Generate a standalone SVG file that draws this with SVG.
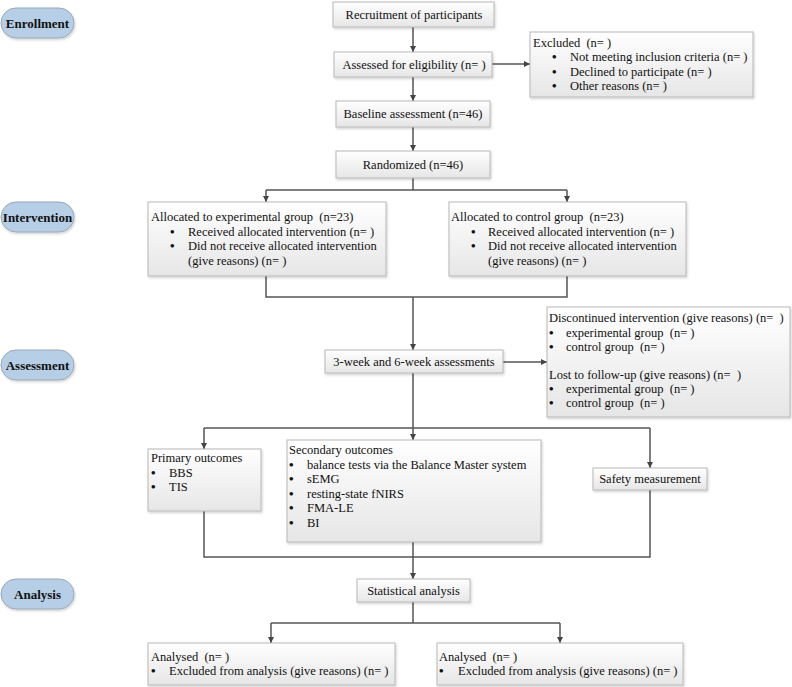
<svg xmlns="http://www.w3.org/2000/svg" width="792" height="687" viewBox="0 0 792 687">
<style>
text{font-family:"Liberation Serif","Times New Roman",serif;font-size:12.5px;fill:#111}
.c{text-anchor:middle}
.b{font-size:13px;font-weight:bold}
.pill text{font-weight:bold;font-size:13px;text-anchor:middle}
.box{fill:url(#g);stroke:#b8b8b8;stroke-width:1;filter:url(#sh)}
.pl{fill:#b7cfe6;stroke:#9aa8b5;stroke-width:1;filter:url(#sh)}
.ln{fill:none;stroke:#555;stroke-width:1.5}
.ar{fill:none;stroke:#555;stroke-width:1.5;marker-end:url(#ah)}
</style>
<defs>
<linearGradient id="g" x1="0" y1="0" x2="0" y2="1"><stop offset="0" stop-color="#ffffff"/><stop offset="1" stop-color="#e6e6e6"/></linearGradient>
<filter id="sh" x="-5%" y="-10%" width="110%" height="130%"><feDropShadow dx="1" dy="1.5" stdDeviation="1" flood-color="#000" flood-opacity="0.18"/></filter>
<marker id="ah" viewBox="0 0 10 10" refX="10" refY="5" markerWidth="6" markerHeight="6" orient="auto" markerUnits="userSpaceOnUse"><path d="M0,0 L10,5 L0,10 z" fill="#444"/></marker>
</defs>
<g id="phases" class="pill">
<g id="enrollment"><rect class="pl" x="1" y="8" width="73" height="30" rx="15"/><text x="37.5" y="27.5">Enrollment</text></g>
<g id="intervention"><rect class="pl" x="1" y="202" width="73" height="30" rx="15"/><text x="37.5" y="221.5">Intervention</text></g>
<g id="assessment"><rect class="pl" x="1" y="350" width="73" height="30" rx="15"/><text x="37.5" y="369.5">Assessment</text></g>
<g id="analysis"><rect class="pl" x="1" y="579" width="73" height="30" rx="15"/><text x="37.5" y="598.5">Analysis</text></g>
</g>
<g id="connectors">
<path class="ar" d="M413,27 V52"/>
<path class="ar" d="M492,64 H530"/>
<path class="ar" d="M413,77 V101"/>
<path class="ar" d="M413,127 V151"/>
<path class="ln" d="M413,178 V190"/>
<path class="ar" d="M266,190 V202"/>
<path class="ln" d="M266,190 H567"/>
<path class="ar" d="M567,190 V202"/>
<path class="ln" d="M266,276 V297 H567 V276"/>
<path class="ar" d="M413,297 V350"/>
<path class="ar" d="M503,362 H547"/>
<path class="ln" d="M413,373 V428"/>
<path class="ln" d="M204,428 H650"/>
<path class="ar" d="M204,428 V449"/>
<path class="ar" d="M413,428 V440"/>
<path class="ar" d="M650,428 V468"/>
<path class="ln" d="M204,511 V557 H650 V490"/>
<path class="ar" d="M413,542 V579"/>
<path class="ln" d="M413,602 V623"/>
<path class="ln" d="M271,623 H560"/>
<path class="ar" d="M271,623 V643"/>
<path class="ar" d="M560,623 V643"/>
</g>
<g id="recruitment"><rect class="box" x="333" y="2" width="161" height="25"/><text class="c" x="414" y="18.5">Recruitment of participants</text></g>
<g id="assessed"><rect class="box" x="334" y="52" width="158" height="25"/><text class="c" x="414" y="68.5">Assessed for eligibility (n= )</text></g>
<g id="excluded"><rect class="box" x="530" y="32" width="223" height="65"/>
<text x="533" y="47">Excluded &#160;(n= )</text>
<text class="b" x="552" y="61">•</text><text x="570" y="61">Not meeting inclusion criteria (n= )</text>
<text class="b" x="552" y="75.5">•</text><text x="570" y="75.5">Declined to participate (n= )</text>
<text class="b" x="552" y="90">•</text><text x="570" y="90">Other reasons (n= )</text>
</g>
<g id="baseline"><rect class="box" x="336" y="101" width="154" height="26"/><text class="c" x="413" y="118">Baseline assessment (n=46)</text></g>
<g id="randomized"><rect class="box" x="336" y="151" width="154" height="27"/><text class="c" x="413" y="168.5">Randomized (n=46)</text></g>
<g id="experimental"><rect class="box" x="148" y="202" width="238" height="74"/>
<text x="151" y="221">Allocated to experimental group &#160;(n=23)</text>
<text class="b" x="170" y="236">•</text><text x="188" y="236">Received allocated intervention (n= )</text>
<text class="b" x="170" y="250">•</text><text x="188" y="250">Did not receive allocated intervention</text>
<text x="188" y="265">(give reasons) (n= )</text>
</g>
<g id="control"><rect class="box" x="449" y="202" width="237" height="74"/>
<text x="451" y="221">Allocated to control group &#160;(n=23)</text>
<text class="b" x="471" y="236">•</text><text x="488" y="236">Received allocated intervention (n= )</text>
<text class="b" x="471" y="250">•</text><text x="488" y="250">Did not receive allocated intervention</text>
<text x="488" y="265">(give reasons) (n= )</text>
</g>
<g id="weeks"><rect class="box" x="325" y="350" width="178" height="23"/><text class="c" x="414" y="366">3-week and 6-week assessments</text></g>
<g id="discontinued"><rect class="box" x="547" y="307" width="243" height="110"/>
<text x="549" y="322">Discontinued intervention (give reasons) (n= &#160;)</text>
<text class="b" x="549" y="337">•</text><text x="566" y="337">experimental group &#160;(n= )</text>
<text class="b" x="549" y="351">•</text><text x="566" y="351">control group &#160;(n= )</text>
<text x="549" y="379">Lost to follow-up (give reasons) (n= &#160;)</text>
<text class="b" x="549" y="393">•</text><text x="566" y="393">experimental group &#160;(n= )</text>
<text class="b" x="549" y="407">•</text><text x="566" y="407">control group &#160;(n= )</text>
</g>
<g id="primary"><rect class="box" x="148" y="449" width="113" height="62"/>
<text x="151" y="462">Primary outcomes</text>
<text class="b" x="151" y="477">•</text><text x="169" y="477">BBS</text>
<text class="b" x="151" y="491">•</text><text x="169" y="491">TIS</text>
</g>
<g id="secondary"><rect class="box" x="287" y="440" width="254" height="102"/>
<text x="289" y="454">Secondary outcomes</text>
<text class="b" x="289" y="469">•</text><text x="307" y="469">balance tests via the Balance Master system</text>
<text class="b" x="289" y="483">•</text><text x="307" y="483">sEMG</text>
<text class="b" x="289" y="497.5">•</text><text x="307" y="497.5">resting-state fNIRS</text>
<text class="b" x="289" y="512">•</text><text x="307" y="512">FMA-LE</text>
<text class="b" x="289" y="527">•</text><text x="307" y="527">BI</text>
</g>
<g id="safety"><rect class="box" x="593" y="468" width="114" height="22"/><text class="c" x="650" y="483">Safety measurement</text></g>
<g id="statistical"><rect class="box" x="357" y="579" width="113" height="23"/><text class="c" x="413.5" y="595">Statistical analysis</text></g>
<g id="analysed-left"><rect class="box" x="148" y="643" width="247" height="42"/>
<text x="151" y="661">Analysed &#160;(n= )</text>
<text class="b" x="151" y="675">•</text><text x="169" y="675">Excluded from analysis (give reasons) (n= )</text>
</g>
<g id="analysed-right"><rect class="box" x="437" y="643" width="246" height="42"/>
<text x="439" y="661">Analysed &#160;(n= )</text>
<text class="b" x="439" y="675">•</text><text x="458" y="675">Excluded from analysis (give reasons) (n= )</text>
</g>
</svg>
